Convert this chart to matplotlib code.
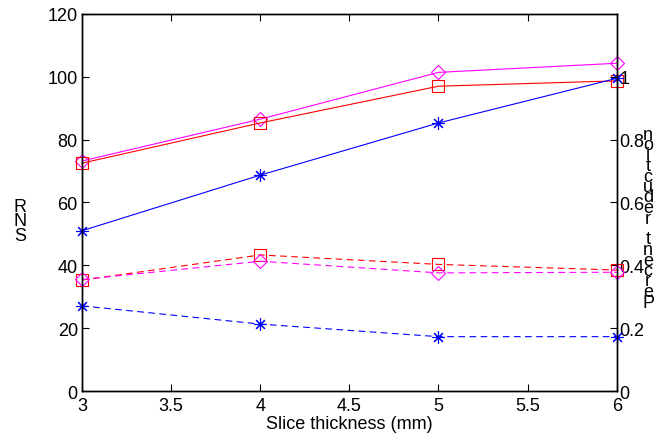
import matplotlib
matplotlib.use("Agg")
import matplotlib.pyplot as plt

plt.rcParams['font.family'] = ['Liberation Sans', 'DejaVu Sans']

thickness = [3, 4, 5, 6]
snr_diamond = [73.2, 86.5, 101.4, 104.3]
snr_square = [72.5, 85.3, 97.0, 98.7]
snr_star = [51.0, 68.7, 85.3, 99.5]
ov_square = [0.353, 0.433, 0.403, 0.385]
ov_diamond = [0.355, 0.413, 0.376, 0.378]
ov_star = [0.271, 0.213, 0.173, 0.173]
xticks = [3, 3.5, 4, 4.5, 5, 5.5, 6]
xticklabels = ['3', '3.5', '4', '4.5', '5', '5.5', '6']
yticks = [0, 20, 40, 60, 80, 100, 120]
y2ticks = [0, 0.2, 0.4, 0.6, 0.8, 1]
y2ticklabels = ['0', '0.2', '0.4', '0.6', '0.8', '1']

fig = plt.figure(figsize=(6.61, 4.39), dpi=100)
ax = fig.add_axes([0.124, 0.107, 0.809, 0.859])
ax2 = ax.twinx()

M = (1, 0, 1)
lw = 0.8
ms = 8
star = (8, 2, 0)
ax.plot(thickness, snr_diamond, '-', color=M, lw=lw, marker='D', ms=7, mfc='none', mew=0.8, clip_on=False)
ax.plot(thickness, snr_square, '-', color='red', lw=lw, marker='s', ms=ms, mfc='none', mew=0.8, clip_on=False)
ax.plot(thickness, snr_star, '-', color='blue', lw=lw, marker=star, ms=9, mew=0.8, clip_on=False)

ax2.plot(thickness, ov_square, '--', color='red', lw=lw, marker='s', ms=ms, mfc='none', mew=0.8, clip_on=False, dashes=(6, 4))
ax2.plot(thickness, ov_diamond, '--', color=M, lw=lw, marker='D', ms=7, mfc='none', mew=0.8, clip_on=False, dashes=(6, 4))
ax2.plot(thickness, ov_star, '--', color='blue', lw=lw, marker=star, ms=9, mew=0.8, clip_on=False, dashes=(6, 4))

ax.set_xlim(3, 6)
ax.set_ylim(0, 120)
ax2.set_ylim(0, 1.2)
ax.set_xticks(xticks)
ax.set_xticklabels(xticklabels)
ax.set_yticks(yticks)
ax2.set_yticks(y2ticks)
ax2.set_yticklabels(y2ticklabels)

for a in (ax, ax2):
    for s in a.spines.values():
        s.set_linewidth(1.0)
        s.set_color('black')
fs = 13
ax.tick_params(axis='both', direction='in', length=5, width=0.8, labelsize=fs, colors='black', pad=3)
ax.tick_params(axis='x', top=True, pad=4)
ax.tick_params(axis='y', left=True, right=False)
ax2.tick_params(axis='y', direction='in', length=5, width=0.8, labelsize=fs, pad=2)

ax.set_xlabel('Slice thickness (mm)', fontsize=fs, labelpad=1)

# stacked vertical labels
fig.text(20 / 661, 1 - 222 / 439, 'R\nN\nS', fontsize=fs, ha='center', va='center', linespacing=0.8)
label2 = 'Percent reduction'
stack = '\n'.join(reversed(list(label2)))
fig.text(648 / 661, 1 - 219 / 439, stack, fontsize=fs, ha='center', va='center', linespacing=0.5)

fig.savefig('out.png', dpi=100)
